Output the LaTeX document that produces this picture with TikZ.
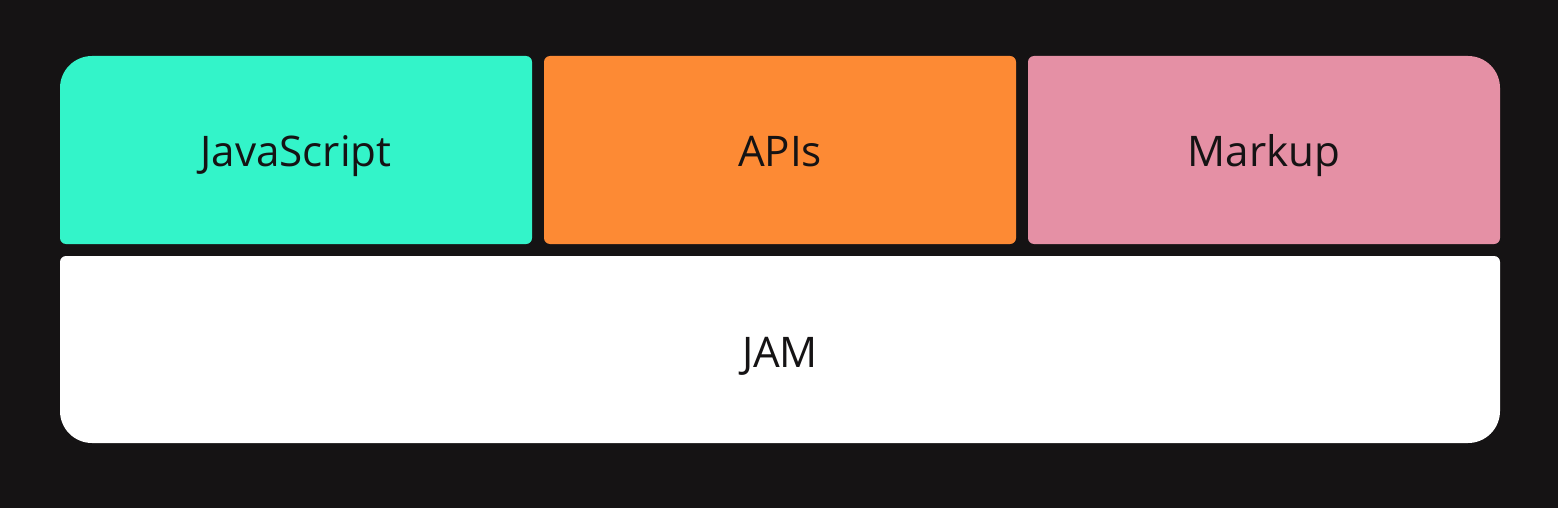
\documentclass[tikz,border=0pt]{standalone}
\usepackage{fontspec}
\setmainfont{Open Sans}
\usepackage{xcolor}
\usepackage{tikz}
\usetikzlibrary{positioning, calc}

\definecolor{bgdark}{HTML}{151314}
\definecolor{jsgreen}{HTML}{33F4C9}
\definecolor{apiorange}{HTML}{FD8A34}
\definecolor{markpink}{HTML}{E590A5}

% panel: x1, y1, x2, y2, radius TL, TR, BR, BL, colour
\newcommand{\panel}[9]{%
  \fill[#9] (#1,#4-#5) arc (180:90:#5) -- (#3-#6,#4) arc (90:0:#6)
    -- (#3,#2+#7) arc (0:-90:#7) -- (#1+#8,#2) arc (-90:-180:#8) -- cycle;}

\begin{document}
\begin{tikzpicture}[x=0.02cm, y=0.02cm,
    label/.style={text=bgdark, anchor=base, font=\fontsize{24}{28}\selectfont}]
    % Background
    \fill[bgdark] (0,0) rectangle (1558,508);
    \useasboundingbox (0,0) rectangle (1558,508);

    % Top row
    \panel{60}{264}{532}{452}{32}{6}{6}{6}{jsgreen}
    \panel{544}{264}{1016}{452}{6}{6}{6}{6}{apiorange}
    \panel{1028}{264}{1500}{452}{6}{32}{6}{6}{markpink}

    % Base
    \panel{60}{65}{1500}{252}{6}{6}{32}{32}{white}

    % Labels
    \node[label] (js) at (296,342) {JavaScript};
    \node[label] (api) at (780,342) {APIs};
    \node[label] (markup) at (1264,342) {Markup};
    \node[label] (jam) at (780,141) {JAM};
\end{tikzpicture}
\end{document}
